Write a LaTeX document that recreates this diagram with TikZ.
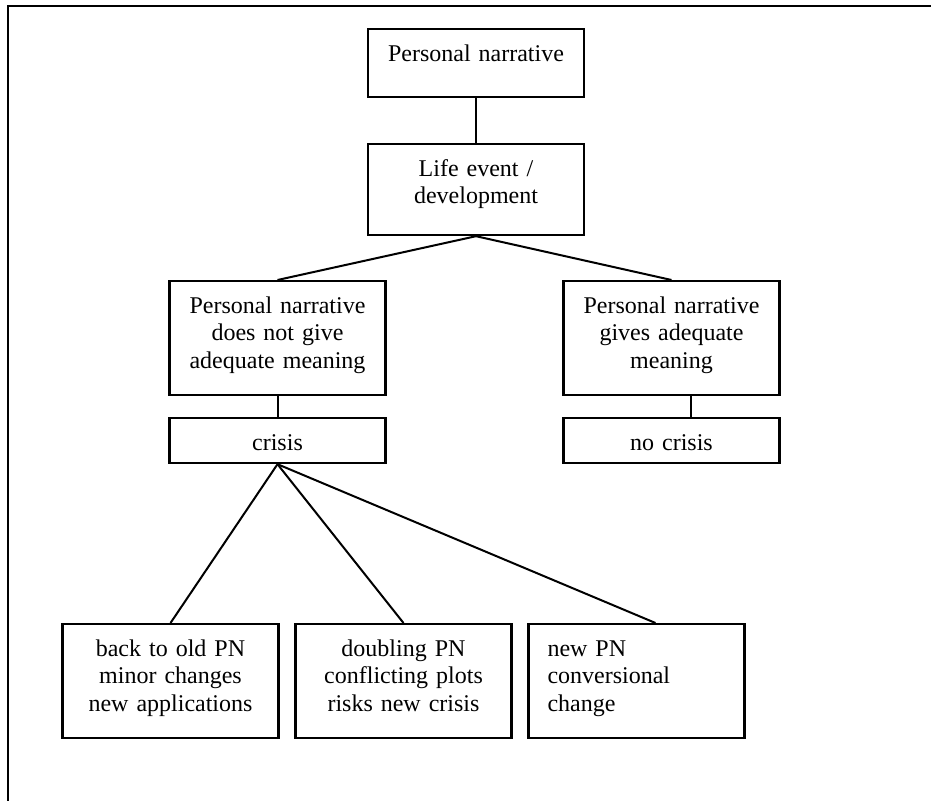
\documentclass[tikz,border=0pt]{standalone}
\usepackage{fontspec}
\setmainfont{Liberation Serif}
\begin{document}
\begin{tikzpicture}[x=0.5pt,y=-0.5pt,
    kasten/.style={draw,line width=1.1pt,anchor=north,inner xsep=5pt,inner ysep=0pt,
      text width=98pt,align=center,text height=16pt,font=\fontsize{12}{13.75}\selectfont},
    linie/.style={line width=1pt}]
    \useasboundingbox (0,0) rectangle (931,801);
    % Rahmen
    \draw[line width=1.3pt] (931,6)--(8,6)--(8,801);
    % Kaesten oben
    \node[kasten,text depth=18pt] (pn) at (476,28) {Personal narrative};
    \node[kasten,text depth=29.5pt] (life) at (476,143) {Life event /\\ development};
    % Kaesten Mitte
    \node[kasten,text depth=41pt] (nomean) at (277.5,280) {Personal narrative\\ does not give\\ adequate meaning};
    \node[kasten,text depth=41pt] (mean) at (671.5,280) {Personal narrative\\ gives adequate\\ meaning};
    \node[kasten,text depth=6.5pt] (crisis) at (277.5,417) {crisis};
    \node[kasten,text depth=6.5pt] (nocrisis) at (671.5,417) {no crisis};
    % Kaesten unten
    \node[kasten,text depth=41pt] (oldpn) at (170.5,623) {back to old PN\\ minor changes\\ new applications};
    \node[kasten,text depth=41pt] (doubling) at (403.5,623) {doubling PN\\ conflicting plots\\ risks new crisis};
    \node[kasten,text depth=41pt,inner xsep=9.5pt,text width=89pt,align=left] (newpn) at (636.5,623) {new PN\\ conversional\\ change};
    % Verbindungen
    \draw[linie] (pn.south)--(life.north);
    \foreach \n in {nomean,mean}
    \draw[linie] (life.south)--(\n.north);
    \draw[linie] (nomean.south)--(crisis.north);
    \draw[linie] ([xshift=9.5pt]mean.south)--([xshift=9.5pt]nocrisis.north);
    \foreach \n in {oldpn,doubling}
    \draw[linie] (crisis.south)--(\n.north);
    \draw[linie] (crisis.south)--([xshift=9.5pt]newpn.north);
\end{tikzpicture}
\end{document}
